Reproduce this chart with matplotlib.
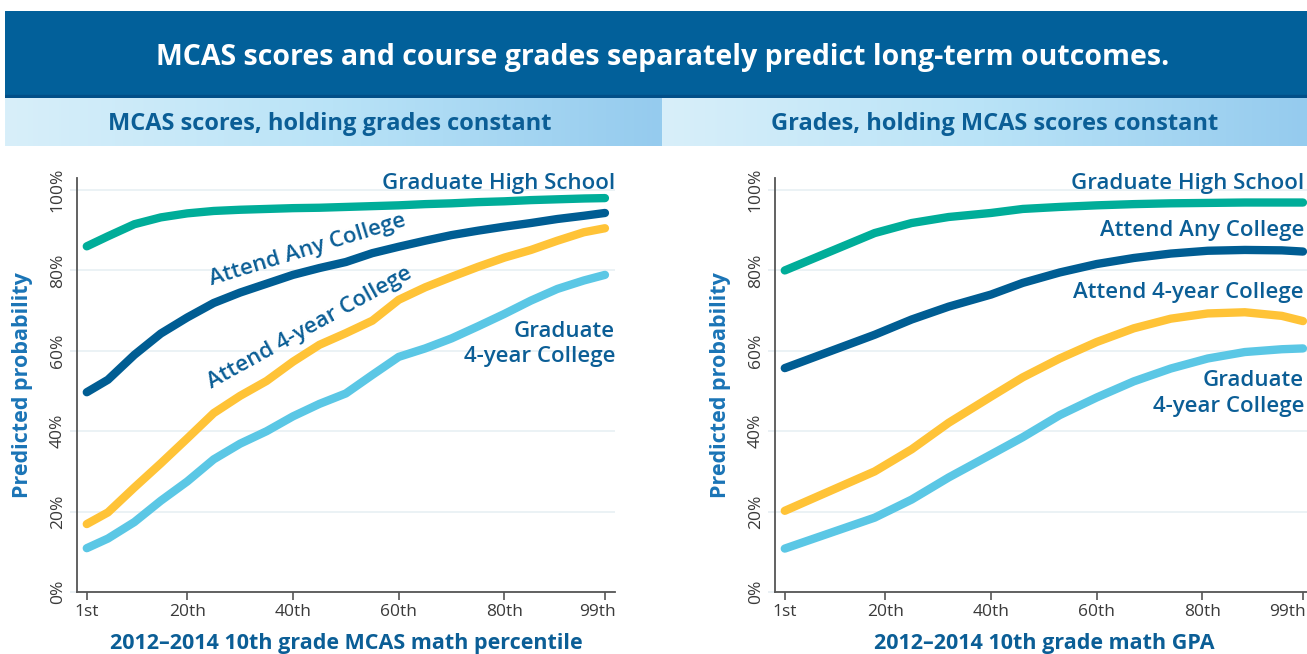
import numpy as np
import matplotlib
matplotlib.use("Agg")
import matplotlib.pyplot as plt
from matplotlib.transforms import ScaledTranslation

plt.rcParams['font.family'] = ['Open Sans', 'DejaVu Sans']

W, H = 1307, 654

# data
pct_left = [1, 5, 10, 15, 20, 25, 30, 35, 40, 45, 50, 55, 60, 65, 70, 75, 80, 85, 90, 95, 99]
hs_left = [86, 88.5, 91.5, 93.2, 94.2, 94.8, 95.1, 95.3, 95.5, 95.6, 95.8, 96, 96.2, 96.5, 96.7, 97, 97.2, 97.5, 97.7, 97.9, 98]
any_left = [49.7, 52.8, 59, 64.3, 68.3, 71.9, 74.5, 76.7, 78.9, 80.6, 82.1, 84.3, 85.9, 87.4, 88.8, 89.9, 90.9, 91.8, 92.8, 93.6, 94.3]
four_left = [16.9, 19.8, 26, 32, 38.2, 44.5, 48.8, 52.5, 57.3, 61.5, 64.4, 67.5, 72.7, 75.8, 78.4, 80.9, 83.2, 85.1, 87.4, 89.5, 90.5]
grad4_left = [10.9, 13.3, 17.4, 22.7, 27.5, 33, 36.9, 40, 43.7, 46.8, 49.4, 54, 58.5, 60.6, 63.1, 66.1, 69.2, 72.5, 75.4, 77.5, 78.9]

pct_right = [1, 18, 25, 32, 40, 46, 53, 60, 67, 74, 81, 88, 95, 99]
hs_right = [80, 89.3, 91.8, 93.3, 94.3, 95.3, 95.8, 96.2, 96.5, 96.7, 96.8, 96.9, 96.9, 96.9]
any_right = [55.7, 64, 67.8, 71, 74, 76.9, 79.5, 81.6, 83.1, 84.2, 84.9, 85.1, 85, 84.7]
four_right = [20.2, 30, 35.5, 42.1, 48.6, 53.4, 58.1, 62.2, 65.6, 68, 69.3, 69.6, 68.7, 67.4]
grad4_right = [10.8, 18.5, 23, 28.5, 34.2, 38.5, 44, 48.4, 52.4, 55.6, 58.1, 59.7, 60.4, 60.6]

xticks = [1, 20, 40, 60, 80, 99]
xticklabels = ['1st', '20th', '40th', '60th', '80th', '99th']
yticks = [0, 20, 40, 60, 80, 100]

TEAL = '#00ad99'
NAVY = '#005d93'
GOLD = '#ffc337'
SKY = '#5bc7e5'
LABEL = '#0b5e96'
AXLABEL = '#1a74b6'


def px(l, t, w, h):
    return [l / W, 1 - (t + h) / H, w / W, h / H]


fig = plt.figure(figsize=(W / 100, H / 100), dpi=100)

# header banner
hdr = fig.add_axes(px(5, 11, 1302, 87))
hdr.set_axis_off()
hdr.add_patch(plt.Rectangle((0, 0), 1, 1, color='#02609a', transform=hdr.transAxes))
hdr.add_patch(plt.Rectangle((0, 0), 1, 0.035, color='#024f88', transform=hdr.transAxes))
hdr.text(0.505, 0.46, 'MCAS scores and course grades separately predict long-term outcomes.',
         color='white', fontsize=20.5, fontweight='bold', ha='center', va='center',
         transform=hdr.transAxes)

# sub headers with gradient
grad = np.linspace(0, 1, 256).reshape(1, -1)
cmap = matplotlib.colors.LinearSegmentedColormap.from_list('g', ['#d8effa', '#b9e3f7', '#95cbee'])
for l, w, txt, cx in [(5, 657, 'MCAS scores, holding grades constant', 0.495),
                      (662, 645, 'Grades, holding MCAS scores constant', 0.516)]:
    sub = fig.add_axes(px(l, 98, w, 48))
    sub.set_axis_off()
    sub.imshow(grad, aspect='auto', cmap=cmap, extent=[0, 1, 0, 1])
    sub.set_xlim(0, 1)
    sub.set_ylim(0, 1)
    sub.text(cx, 0.45, txt, color=LABEL, fontsize=17, fontweight='bold',
             ha='center', va='center')

panels = [
    (77, pct_left, [hs_left, any_left, four_left, grad4_left], '2012\u20132014 10th grade MCAS math percentile', -8),
    (775, pct_right, [hs_right, any_right, four_right, grad4_right], '2012\u20132014 10th grade math GPA', -16),
]

axes = []
for left, xs, series, xlabel, shift in panels:
    ax = fig.add_axes(px(left, 178, 538, 414))
    for vals, c in zip(series, [TEAL, NAVY, GOLD, SKY]):
        ax.plot(xs, vals, color=c, lw=6, solid_capstyle='round', solid_joinstyle='round', zorder=3)
    ax.set_xlim(-0.85, 100.9)
    ax.set_ylim(0, 103)
    ax.set_xticks(xticks)
    ax.set_xticklabels(xticklabels)
    ax.set_yticks(yticks)
    ax.set_yticklabels([f'{v}%' for v in yticks], rotation=90, va='center')
    ax.tick_params(axis='x', length=6, width=1.2, color='#555555', labelsize=12.5,
                   labelcolor='#3a3a3a', pad=3)
    ax.tick_params(axis='y', length=5, width=1.2, color='#e6eef2', labelsize=12.5,
                   labelcolor='#3a3a3a', pad=3)
    # keep the last tick label inside the plot end
    last = ax.get_xticklabels()[-1]
    last.set_transform(last.get_transform() + ScaledTranslation(shift / 100, 0, fig.dpi_scale_trans))
    ax.grid(axis='y', color='#e8f0f4', lw=1.2, zorder=0)
    for s in ['top', 'right']:
        ax.spines[s].set_visible(False)
    for s in ['left', 'bottom']:
        ax.spines[s].set_color('#555555')
        ax.spines[s].set_linewidth(1.3)
    ax.set_ylabel('Predicted probability', color=AXLABEL, fontsize=15.5,
                  fontweight='bold', labelpad=12)
    ax.set_xlabel(xlabel, color=LABEL, fontsize=15.5, fontweight='bold', labelpad=9)
    axes.append(ax)

lab = dict(color=LABEL, fontsize=16, fontweight='semibold')
a1, a2 = axes
a1.text(100.9, 101.7, 'Graduate High School', ha='right', va='center', **lab)
a1.text(42.8, 85, 'Attend Any College', ha='center', va='center', rotation=17, **lab)
a1.text(43.2, 65.7, 'Attend 4-year College', ha='center', va='center', rotation=29, **lab)
a1.text(100.9, 61.7, 'Graduate\n4-year College', ha='right', va='center', linespacing=1.3, **lab)

# right panel labels end just inside the figure edge
rx = 99.2
a2.text(rx, 101.7, 'Graduate High School', ha='right', va='center', **lab)
a2.text(rx, 90, 'Attend Any College', ha='right', va='center', **lab)
a2.text(rx, 74.4, 'Attend 4-year College', ha='right', va='center', **lab)
a2.text(rx, 49.3, 'Graduate\n4-year College', ha='right', va='center', linespacing=1.3, **lab)

fig.savefig('out.png', dpi=100)
